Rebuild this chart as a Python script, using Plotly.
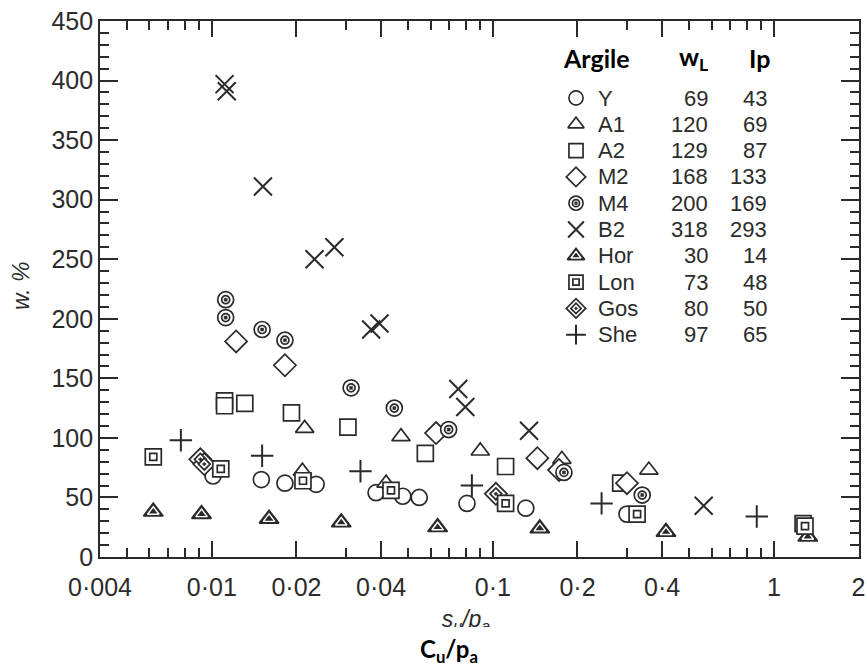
import math
import plotly.graph_objects as go

W, H = 867, 670
INK = "#2a2a2a"
TEXT = "#2b2b2b"
FONT = "Liberation Sans, Arial, sans-serif"
BOLD_FONT = "Lato, Open Sans, sans-serif"

# ---- water content w (%) against s_u/p_a for each clay ----
y_su = [0.0101, 0.0150, 0.0182, 0.0235, 0.0384, 0.0478, 0.0547, 0.0809, 0.131, 0.300]
y_w = [68, 65, 62, 61, 54, 51, 50, 45, 41, 36]

a1_su = [0.0210, 0.0214, 0.0417, 0.0471, 0.0902, 0.176, 0.359]
a1_w = [72, 108, 62, 101, 89, 82, 73]

a2_su = [0.0111, 0.0111, 0.0131, 0.0192, 0.0305, 0.0575, 0.111, 0.285, 1.27]
a2_w = [131, 127, 129, 121, 109, 87, 76, 62, 28]

m2_su = [0.0122, 0.0182, 0.0628, 0.144, 0.172, 0.300]
m2_w = [181, 161, 104, 83, 73, 62]

m4_su = [0.0112, 0.0112, 0.0151, 0.0182, 0.0313, 0.0446, 0.0696, 0.179, 0.340]
m4_w = [216, 201, 191, 182, 142, 125, 107, 71, 52]

b2_su = [0.0111, 0.0113, 0.0152, 0.0232, 0.0273, 0.0369, 0.0395, 0.0753, 0.0798, 0.1345, 0.5625]
b2_w = [397, 391, 311, 250, 260, 191, 196, 141, 126, 106, 43]

hor_su = [0.00619, 0.00919, 0.01598, 0.02887, 0.0636, 0.1469, 0.413, 1.32]
hor_w = [38, 36, 32, 29, 25, 24, 21, 17]

lon_su = [0.00619, 0.01076, 0.0211, 0.0434, 0.111, 0.326, 1.29]
lon_w = [84, 74, 64, 56, 45, 36, 26]

gos_su = [0.0091, 0.0094, 0.1025]
gos_w = [82, 78, 53]

she_su = [0.00776, 0.0151, 0.0338, 0.0842, 0.2437, 0.869]
she_w = [98, 85, 72, 60, 45, 34]

# ---- clay table ----
clay_names = ["Y", "A1", "A2", "M2", "M4", "B2", "Hor", "Lon", "Gos", "She"]
clay_wl = [69, 120, 129, 168, 200, 318, 30, 73, 80, 97]
clay_ip = [43, 69, 87, 133, 169, 293, 14, 48, 50, 65]

# ---- axis ticks ----
x_tickvals = [0.004, 0.01, 0.02, 0.04, 0.1, 0.2, 0.4, 1, 2]
x_ticktext = ["0·004", "0·01", "0·02", "0·04", "0·1", "0·2", "0·4", "1", "2"]
x_minor = [0.005, 0.006, 0.007, 0.008, 0.009, 0.03,
           0.05, 0.06, 0.07, 0.08, 0.09, 0.3,
           0.5, 0.6, 0.7, 0.8, 0.9]
y_tickvals = list(range(0, 451, 50))


def layer(symbol, size, fill="white", line=INK, width=1.7):
    return dict(symbol=symbol, size=size, fill=fill, line=line, width=width)


# marker glyphs, drawn as stacked layers
glyphs = {
    "Y": [layer("circle", 16)],
    "A1": [layer("triangle-up", 16)],
    "A2": [layer("square", 16)],
    "M2": [layer("diamond", 17)],
    "M4": [layer("circle", 16), layer("circle", 8), layer("square", 3, fill=INK, width=0.5)],
    "B2": [layer("x-thin", 18, width=2)],
    "Hor": [layer("triangle-up", 17, fill=INK),
            layer("triangle-up-open", 10, line="#a8a8a8", width=1.4),
            layer("triangle-up", 3, fill=INK, width=0.5)],
    "Lon": [layer("square", 16), layer("square", 7)],
    "Gos": [layer("diamond", 17), layer("diamond", 9), layer("diamond", 3, fill=INK, width=0.5)],
    "She": [layer("cross-thin", 16, width=2)],
}

series = {
    "Y": (y_su, y_w), "A1": (a1_su, a1_w), "A2": (a2_su, a2_w), "M2": (m2_su, m2_w),
    "M4": (m4_su, m4_w), "B2": (b2_su, b2_w), "Hor": (hor_su, hor_w),
    "Gos": (gos_su, gos_w), "Lon": (lon_su, lon_w), "She": (she_su, she_w),
}

fig = go.Figure()


def add_glyph(name, xs, ys, xaxis="x", yaxis="y", scale=1.0):
    for lay in glyphs[name]:
        fig.add_trace(go.Scatter(
            x=xs, y=ys, mode="markers", xaxis=xaxis, yaxis=yaxis,
            showlegend=False, hoverinfo="skip", name=name,
            marker=dict(symbol=lay["symbol"], size=lay["size"] * scale,
                        color=lay["fill"],
                        line=dict(color=lay["line"], width=lay["width"])),
        ))


for name, (xs, ys) in series.items():
    add_glyph(name, xs, ys)

# plot area in pixels
X0, X1 = 100, 858.5
YT, YB = 21, 557


def fx(px):
    return px / W


def fy(py):
    return 1 - py / H


# ---- table of clays (symbol, name, w_L, I_p) ----
ROW0, ROW_STEP = 98, 26.3
SYM_X, NAME_X, WL_X, IP_X = 576, 596, 710, 769
for i, name in enumerate(clay_names):
    py = ROW0 + i * ROW_STEP
    add_glyph(name, [fx(SYM_X)], [fy(py)], xaxis="x2", yaxis="y2", scale=0.88)

annotations = []
row_font = dict(family=FONT, size=22, color=TEXT)
for i, name in enumerate(clay_names):
    py = ROW0 + i * ROW_STEP
    annotations.append(dict(x=fx(NAME_X), y=fy(py), xref="paper", yref="paper",
                            text=name, showarrow=False, xanchor="left", yanchor="middle",
                            font=row_font))
    annotations.append(dict(x=fx(WL_X), y=fy(py), xref="paper", yref="paper",
                            text=str(clay_wl[i]), showarrow=False, xanchor="right",
                            yanchor="middle", font=row_font))
    annotations.append(dict(x=fx(IP_X), y=fy(py), xref="paper", yref="paper",
                            text=str(clay_ip[i]), showarrow=False, xanchor="right",
                            yanchor="middle", font=row_font))

head_font = dict(family=BOLD_FONT, size=25, color="black")
annotations += [
    dict(x=fx(561), y=fy(58), xref="paper", yref="paper", text="<b>Argile</b>",
         showarrow=False, xanchor="left", yanchor="middle", font=head_font),
    dict(x=fx(693), y=fy(58), xref="paper", yref="paper", text="<b>w<sub>L</sub></b>",
         showarrow=False, xanchor="center", yanchor="middle", font=head_font),
    dict(x=fx(747), y=fy(58), xref="paper", yref="paper", text="<b>Ip</b>",
         showarrow=False, xanchor="left", yanchor="middle", font=head_font),
    # y-axis title
    dict(x=fx(21), y=fy(286), xref="paper", yref="paper", text="<i>w. %</i>",
         showarrow=False, textangle=-90, xanchor="center", yanchor="middle",
         font=dict(family=FONT, size=23, color=TEXT)),
    # x-axis title (bold)
    dict(x=fx(449), y=fy(650), xref="paper", yref="paper",
         text="<b>C<sub>u</sub>/p<sub>a</sub></b>",
         showarrow=False, xanchor="center", yanchor="middle",
         font=dict(family=BOLD_FONT, size=24, color="black")),
]

# italic axis label, clipped along its lower edge by its own small subplot
CLIP_T, CLIP_B, CLIP_L, CLIP_R = 598, 627, 380, 560
fig.add_trace(go.Scatter(
    x=[(466 - CLIP_L) / (CLIP_R - CLIP_L)],
    y=[(CLIP_B - 621.5) / (CLIP_B - CLIP_T)],
    xaxis="x3", yaxis="y3", mode="text", cliponaxis=True,
    text=["<i>s<sub>u</sub>/p<sub>a</sub></i>"], textposition="middle center",
    textfont=dict(family=FONT, size=23, color=TEXT),
    showlegend=False, hoverinfo="skip",
))

axis_common = dict(showline=True, linecolor=INK, linewidth=1.7, mirror="ticks",
                   ticks="inside", tickcolor=INK, tickwidth=1.7,
                   showgrid=False, zeroline=False, automargin=False,
                   tickfont=dict(family=FONT, size=25, color=TEXT))

fig.update_layout(
    width=W, height=H,
    margin=dict(l=0, r=0, t=0, b=0),
    paper_bgcolor="white", plot_bgcolor="rgba(0,0,0,0)",
    showlegend=False,
    xaxis=dict(type="log", range=[math.log10(0.004), math.log10(2)],
               domain=[fx(X0), fx(X1)], anchor="y",
               tickmode="array", tickvals=x_tickvals, ticktext=x_ticktext,
               ticklen=16, ticklabelstandoff=7,
               minor=dict(tickmode="array", tickvals=x_minor, ticks="inside",
                          ticklen=9, tickwidth=1.7, tickcolor=INK, showgrid=False),
               **axis_common),
    yaxis=dict(range=[0, 450], domain=[fy(YB), fy(YT)], anchor="x",
               tickmode="array", tickvals=y_tickvals, ticklen=18,
               minor=dict(dtick=10, ticks="inside", ticklen=9, tickwidth=1.7,
                          tickcolor=INK, showgrid=False),
               **axis_common),
    xaxis2=dict(domain=[0, 1], range=[0, 1], visible=False, anchor="y2",
                fixedrange=True),
    yaxis2=dict(domain=[0, 1], range=[0, 1], visible=False, anchor="x2",
                fixedrange=True),
    xaxis3=dict(domain=[fx(CLIP_L), fx(CLIP_R)], range=[0, 1], visible=False,
                anchor="y3", fixedrange=True),
    yaxis3=dict(domain=[fy(CLIP_B), fy(CLIP_T)], range=[0, 1], visible=False,
                anchor="x3", fixedrange=True),
    annotations=annotations,
)

fig.write_html("out.html")
